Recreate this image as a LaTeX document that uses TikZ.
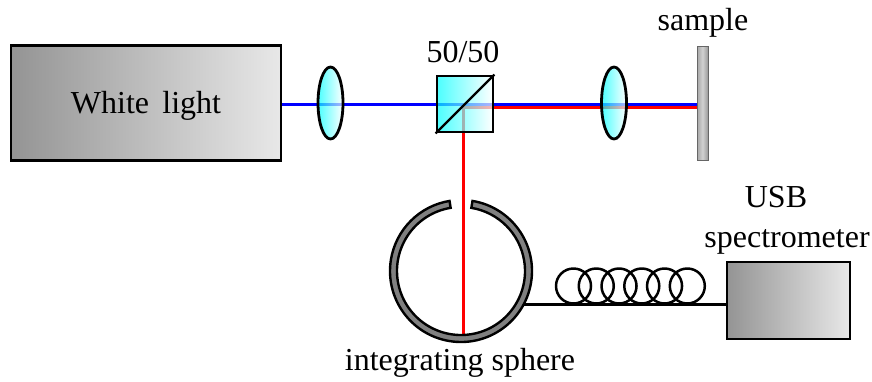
\documentclass[tikz,border=0pt]{standalone}
\usepackage{fontspec}
\setmainfont{Liberation Serif}
\usetikzlibrary{shapes.geometric}
\tikzset{
  label text/.style={font=\fontsize{32}{36}\selectfont, inner sep=0pt, anchor=base},
  grey box/.style={rectangle, draw=black, line width=2.8pt, left color=black!42, right color=black!9, inner sep=0pt},
  lens/.style={ellipse, draw=black, line width=2.8pt, minimum width=25pt, minimum height=72pt, inner sep=0pt,
    left color=cyan, right color=white, fill opacity=0.7, draw opacity=1},
  blue beam/.style={blue, line width=3pt},
  red beam/.style={red, line width=3pt},
  fibre/.style={line width=3pt},
}
\begin{document}
\begin{tikzpicture}[x=1pt, y=-1pt]
\useasboundingbox (0,0) rectangle (872,381);
% light source
\node[grey box, minimum width=270pt, minimum height=115pt] (source) at (146,103) {};
\node[label text] (sourcetext) at (146,113) {White\, light};
% beams
\coordinate (redcorner) at (463,107);
\coordinate (sampleblue) at (697,104);
\coordinate (samplered) at (697,107);
\coordinate (spherebottom) at (463,334);
\draw[blue beam] (source.east |- sampleblue) -- (sampleblue);
\draw[red beam] (spherebottom) -- (redcorner) -- (samplered);
% optics
\node[lens] (lensone) at (330.5,103) {};
\node[lens] (lenstwo) at (614,103) {};
\node[rectangle, draw=black, line width=2.8pt, minimum size=56pt, inner sep=0pt, left color=cyan, right color=white, fill opacity=0.7, draw opacity=1] (cube) at (465,104) {};
\draw[line width=2.2pt] (cube.south west) -- (cube.north east);
\node[label text] (cubetext) at (463,62) {50/50};
% sample
\node[rectangle, draw=black!60, line width=1pt, minimum width=11pt, minimum height=114pt, inner sep=0pt, left color=black!35, right color=black!40, middle color=black!18] (sample) at (702.5,103) {};
\node[label text] (sampletext) at (703,30) {sample};
% fibre
\coordinate (spherecentre) at (461,271);
\node[grey box, minimum width=123pt, minimum height=77pt] (spectrometer) at (788.5,300.5) {};
\coordinate (fibrestart) at (520,304);
\draw[fibre] (fibrestart) -- (spectrometer.west |- fibrestart);
\foreach \i in {0,...,5}
  \node[circle, draw=black, line width=2.5pt, minimum size=35pt, inner sep=0pt] (loop\i) at (573.5+\i*22.76,286) {};
% sphere
\filldraw[draw=black, fill=black!50, line width=2.4pt]
  ([shift={(-80.7:71)}]spherecentre) arc[start angle=-80.7, delta angle=341.4, radius=71]
  -- ([shift={(-99.3:64)}]spherecentre) arc[start angle=-99.3, delta angle=-341.4, radius=64] -- cycle;
\node[label text] (spheretext) at (460,370) {integrating sphere};
\node[label text] (usbtext) at (776,207) {USB};
\node[label text] (spectext) at (787,247) {spectrometer};
\end{tikzpicture}
\end{document}
